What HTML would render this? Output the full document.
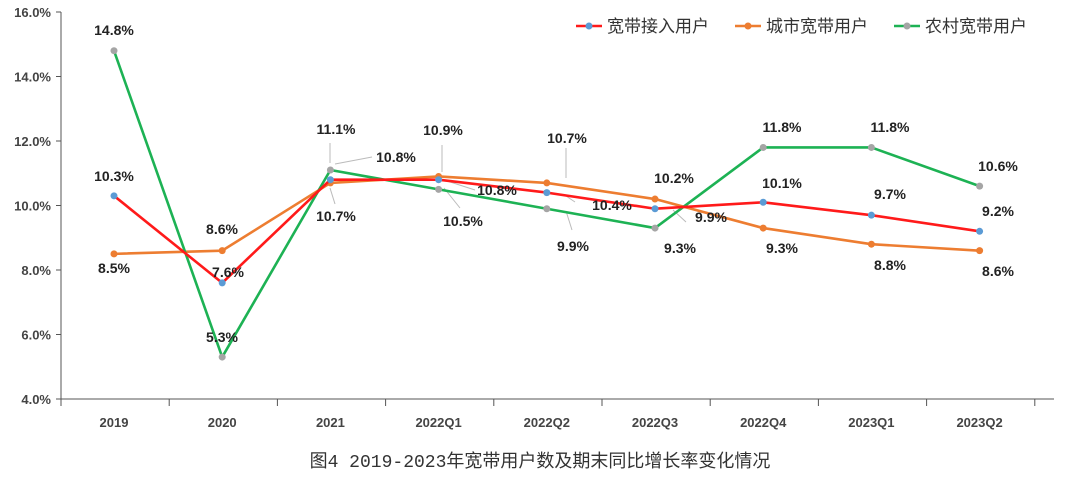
<!DOCTYPE html>
<html><head><meta charset="utf-8"><style>
html,body{margin:0;padding:0;background:#fff;}
svg{display:block;font-family:"Liberation Sans","Noto Sans CJK SC",sans-serif;}
.t{font-size:14px;font-weight:bold;fill:#222;text-anchor:middle;}
.ax{font-size:13px;fill:#444;font-weight:bold;}
</style></head><body>
<svg id="s" width="1080" height="481" viewBox="0 0 1080 481"></svg>
<script>
const s=document.getElementById('s');
const NS='http://www.w3.org/2000/svg';
function el(t,a,txt){const e=document.createElementNS(NS,t);for(const k in a)e.setAttribute(k,a[k]);if(txt!=null)e.textContent=txt;s.appendChild(e);return e;}
const Y=v=>399-(v-4)*32.25;
const X=i=>114+i*108.2;
el('line',{x1:61,y1:12,x2:61,y2:406,stroke:'#555','stroke-width':1});
el('line',{x1:61,y1:399,x2:1054,y2:399,stroke:'#555','stroke-width':1});
for(let v=4;v<=16;v+=2){const y=Y(v);el('line',{x1:56,y1:y,x2:61,y2:y,stroke:'#555'});
el('text',{x:51,y:y+5,'text-anchor':'end',class:'ax'},v.toFixed(1)+'%');}
for(let k=0;k<=9;k++){const x=61+k*108.2;el('line',{x1:x,y1:399,x2:x,y2:406,stroke:'#555'});}
const cats=['2019','2020','2021','2022Q1','2022Q2','2022Q3','2022Q4','2023Q1','2023Q2'];
cats.forEach((c,i)=>el('text',{x:X(i),y:427,'text-anchor':'middle',class:'ax'},c));
const A=[10.3,7.6,10.8,10.8,10.4,9.9,10.1,9.7,9.2];
const U=[8.5,8.6,10.7,10.9,10.7,10.2,9.3,8.8,8.6];
const R=[14.8,5.3,11.1,10.5,9.9,9.3,11.8,11.8,10.6];
const L=[[330,143,330,163],[335,164,372,157],[330,188,335,204],[442,145,442,172],[444,180,475,190],[444,188,460,208],[566,148,566,178],[566,196,575,202],[566,211,572,230],[673,210,686,222]];
L.forEach(l=>el('polyline',{points:`${l[0]},${l[1]} ${l[2]},${l[3]}`,stroke:'#bbb',fill:'none','stroke-width':1}));
function series(d,c,m){el('polyline',{points:d.map((v,i)=>X(i)+','+Y(v)).join(' '),fill:'none',stroke:c,'stroke-width':2.6,'stroke-linejoin':'round'});
d.forEach((v,i)=>el('circle',{cx:X(i),cy:Y(v),r:3.5,fill:m}));}
series(U,'#ed7d31','#ed7d31');
series(R,'#1db254','#a5a5a5');
series(A,'#ff1a1a','#5b9bd5');
const labels=[[114,30,'14.8%'],[114,176,'10.3%'],[114,268,'8.5%'],[222,229,'8.6%'],[228,272,'7.6%'],[222,337,'5.3%'],
[336,129,'11.1%'],[396,157,'10.8%'],[336,216,'10.7%'],[443,130,'10.9%'],[497,190,'10.8%'],[463,221,'10.5%'],
[567,138,'10.7%'],[612,205,'10.4%'],[573,246,'9.9%'],[674,178,'10.2%'],[711,217,'9.9%'],[680,248,'9.3%'],
[782,127,'11.8%'],[782,183,'10.1%'],[782,248,'9.3%'],[890,127,'11.8%'],[890,194,'9.7%'],[890,265,'8.8%'],
[998,166,'10.6%'],[998,211,'9.2%'],[998,271,'8.6%']];
labels.forEach(l=>el('text',{x:l[0],y:l[1]+5,class:'t'},l[2]));
const lg=[[576,'#ff1a1a','#5b9bd5','宽带接入用户'],[735,'#ed7d31','#ed7d31','城市宽带用户'],[894,'#1db254','#a5a5a5','农村宽带用户']];
lg.forEach(g=>{el('line',{x1:g[0],y1:26,x2:g[0]+26,y2:26,stroke:g[1],'stroke-width':2.6});
el('circle',{cx:g[0]+13,cy:26,r:3.5,fill:g[2]});
el('text',{x:g[0]+31,y:32,'font-size':17,fill:'#333'},g[3]);});
el('text',{x:540,y:467,'text-anchor':'middle','font-size':18,fill:'#333','font-family':'"Liberation Mono","Noto Sans CJK SC",monospace'},'图4  2019-2023年宽带用户数及期末同比增长率变化情况');
</script>
</body></html>
